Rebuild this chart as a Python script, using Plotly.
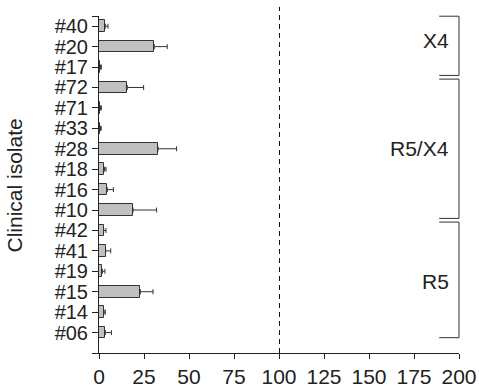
import plotly.graph_objects as go

# Isolates listed top to bottom
isolates = ["#40", "#20", "#17", "#72", "#71", "#33", "#28", "#18",
            "#16", "#10", "#42", "#41", "#19", "#15", "#14", "#06"]
means = [3.5, 30.7, 0.8, 15.7, 0.8, 0.8, 32.8, 3.0,
         4.6, 18.9, 2.6, 3.7, 1.9, 23.0, 2.8, 3.5]
errors = [1.5, 7.2, 0.5, 9.1, 0.5, 0.4, 10.3, 0.9,
          3.4, 13.1, 1.3, 2.8, 1.4, 7.0, 0.7, 3.4]

# Co-receptor groups: (label, first isolate, last isolate)
groups = [("X4", "#40", "#17"), ("R5/X4", "#72", "#10"), ("R5", "#42", "#06")]

x_ticks = [0, 25, 50, 75, 100, 125, 150, 175, 200]
reference_level = 100

n = len(isolates)
ypos = [n - 1 - i for i in range(n)]        # top row highest
y_lo, y_hi = -1.0, n - 0.5
x_lo, x_hi = 0, 200

W, H = 479, 391
ML, MR, MT, MB = 99, 20, 16, 38
plot_w = W - ML - MR

FONT = "Liberation Sans, Arial, sans-serif"
INK = "#222222"
FS = 21


def py(v):
    return (v - y_lo) / (y_hi - y_lo)


def px(v):
    return (v - x_lo) / (x_hi - x_lo)


fig = go.Figure()
fig.add_trace(go.Bar(
    x=means, y=ypos, orientation="h", width=0.57,
    marker=dict(color="#c0c0c0", line=dict(color="#333333", width=1)),
    error_x=dict(type="data", array=errors, arrayminus=[0] * n,
                 symmetric=False, color="#333333", thickness=1, width=2.5),
    showlegend=False, hoverinfo="skip",
))

shapes = []
# dashed reference line at 100, nudged half a pixel so it renders crisp
half_px = 0.5 * (x_hi - x_lo) / plot_w
shapes.append(dict(type="line", xref="x", yref="paper",
                   x0=reference_level + half_px, x1=reference_level + half_px,
                   y0=0, y1=1.027,
                   line=dict(color="#111111", width=1, dash="5px,4px")))

annotations = []
arm = 11  # bracket arm length in x units
gap = 0.09
for k, (label, first, last) in enumerate(groups):
    top = ypos[isolates.index(first)] + 0.5
    bot = ypos[isolates.index(last)] - 0.5
    top_y = top - (0.01 if k == 0 else gap)
    bot_y = bot + (gap if k < len(groups) - 1 else 0.25)
    x0, x1 = px(x_hi - arm), px(x_hi)
    shapes.append(dict(
        type="path", xref="paper", yref="paper",
        path=f"M {x0},{py(top_y)} L {x1},{py(top_y)} L {x1},{py(bot_y)} L {x0},{py(bot_y)}",
        line=dict(color="#333333", width=1)))
    annotations.append(dict(
        x=195.5, y=(top + bot) / 2 + (0.3 if k == 0 else 0.0), xref="x", yref="y",
        text=label, showarrow=False, xanchor="right", yanchor="middle",
        font=dict(family=FONT, size=FS, color=INK)))

# y-axis title placed in the left margin
annotations.append(dict(
    x=(15 - ML) / plot_w, y=py(7.2), xref="paper", yref="paper",
    text="Clinical isolate", showarrow=False, textangle=-90,
    xanchor="center", yanchor="middle",
    font=dict(family=FONT, size=FS, color=INK)))

fig.update_layout(
    width=W, height=H,
    margin=dict(l=ML, r=MR, t=MT, b=MB),
    paper_bgcolor="white", plot_bgcolor="white",
    font=dict(family=FONT, size=FS, color=INK),
    shapes=shapes, annotations=annotations,
    bargap=0,
)
fig.update_xaxes(
    range=[x_lo, x_hi], tickvals=x_ticks, ticktext=[str(t) for t in x_ticks],
    showline=True, linecolor=INK, linewidth=1,
    ticks="outside", ticklen=5, tickcolor=INK, tickwidth=1,
    showgrid=False, zeroline=False, automargin=False,
    tickfont=dict(family=FONT, size=FS, color=INK),
)
fig.update_yaxes(
    range=[y_lo, y_hi],
    tickvals=[y_lo] + ypos + [y_hi],
    ticktext=[""] + isolates + [""],
    showline=True, linecolor=INK, linewidth=1,
    ticks="outside", ticklen=6, tickcolor=INK, tickwidth=1,
    showgrid=False, zeroline=False, automargin=False,
    tickfont=dict(family=FONT, size=20, color=INK),
)

fig.write_html("out.html")
